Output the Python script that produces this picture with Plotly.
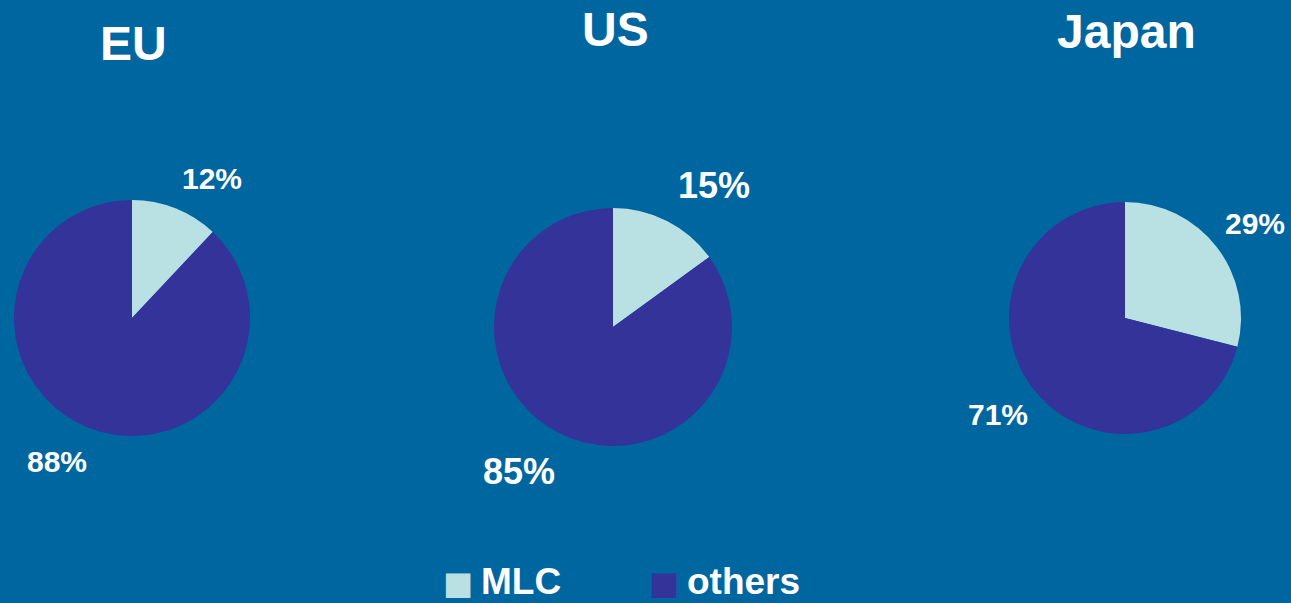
import plotly.graph_objects as go

# Data
regions = ["EU", "US", "Japan"]
categories = ["MLC", "others"]
mlc_share = [12, 15, 29]
others_share = [88, 85, 71]

# Layout (pixels in a 1291x603 canvas)
W, H = 1291, 603
BG = "#0066A0"
colours = ["#B9E0E3", "#333399"]
FONT = "Liberation Sans, Arial, sans-serif"

# pie centre x, centre y, radius
pie_geom = [(132, 318, 118), (613, 327, 119), (1125, 318, 116)]
title_pos = [(133, 43), (615, 29), (1126, 32)]
# label centres: (MLC, others)
label_pos = [
    [(212, 178), (57, 461)],
    [(714, 185), (519, 471)],
    [(1255, 224), (998, 414)],
]
label_size = [30, 36, 30]


def px(x):
    return x / W


def py(y):
    return 1 - y / H


fig = go.Figure()

for i, region in enumerate(regions):
    cx, cy, r = pie_geom[i]
    fig.add_trace(go.Pie(
        labels=categories,
        values=[mlc_share[i], others_share[i]],
        marker={"colors": colours, "line": {"width": 0}},
        sort=False,
        direction="clockwise",
        rotation=0,
        textinfo="none",
        hoverinfo="label+percent",
        showlegend=False,
        domain={"x": [px(cx - r), px(cx + r)], "y": [py(cy + r), py(cy - r)]},
        name=region,
    ))

annotations = []
for i, region in enumerate(regions):
    tx, ty = title_pos[i]
    annotations.append(dict(
        text=f"<b>{region}</b>", x=px(tx), y=py(ty), xref="paper", yref="paper",
        showarrow=False, xanchor="center", yanchor="middle",
        font={"size": 48, "color": "white", "family": FONT},
    ))
    for j, val in enumerate([mlc_share[i], others_share[i]]):
        lx, ly = label_pos[i][j]
        annotations.append(dict(
            text=f"<b>{val}%</b>", x=px(lx), y=py(ly), xref="paper", yref="paper",
            showarrow=False, xanchor="center", yanchor="middle",
            font={"size": label_size[i], "color": "white", "family": FONT},
        ))

# legend drawn as text: swatch + label
swatch_x = [441, 647]
text_x = [479, 685]
for k, cat in enumerate(categories):
    annotations.append(dict(
        text="■", x=px(swatch_x[k]), y=py(583), xref="paper", yref="paper",
        showarrow=False, xanchor="left", yanchor="middle",
        font={"size": 32, "color": colours[k], "family": "DejaVu Sans"},
    ))
    annotations.append(dict(
        text=f"<b>{cat}</b>", x=px(text_x[k]), y=py(581), xref="paper", yref="paper",
        showarrow=False, xanchor="left", yanchor="middle",
        font={"size": 37, "color": "white", "family": FONT},
    ))

fig.update_layout(
    width=W,
    height=H,
    margin={"l": 0, "r": 0, "t": 0, "b": 0},
    paper_bgcolor=BG,
    plot_bgcolor=BG,
    annotations=annotations,
    showlegend=False,
)

fig.write_html("out.html", config={"displayModeBar": False})

# drop the default page margin so the figure fills the window
with open("out.html", encoding="utf-8") as f:
    page = f.read()
page = page.replace("<head>", "<head><style>body{margin:0;overflow:hidden;background:#0066A0}</style>", 1)
with open("out.html", "w", encoding="utf-8") as f:
    f.write(page)
